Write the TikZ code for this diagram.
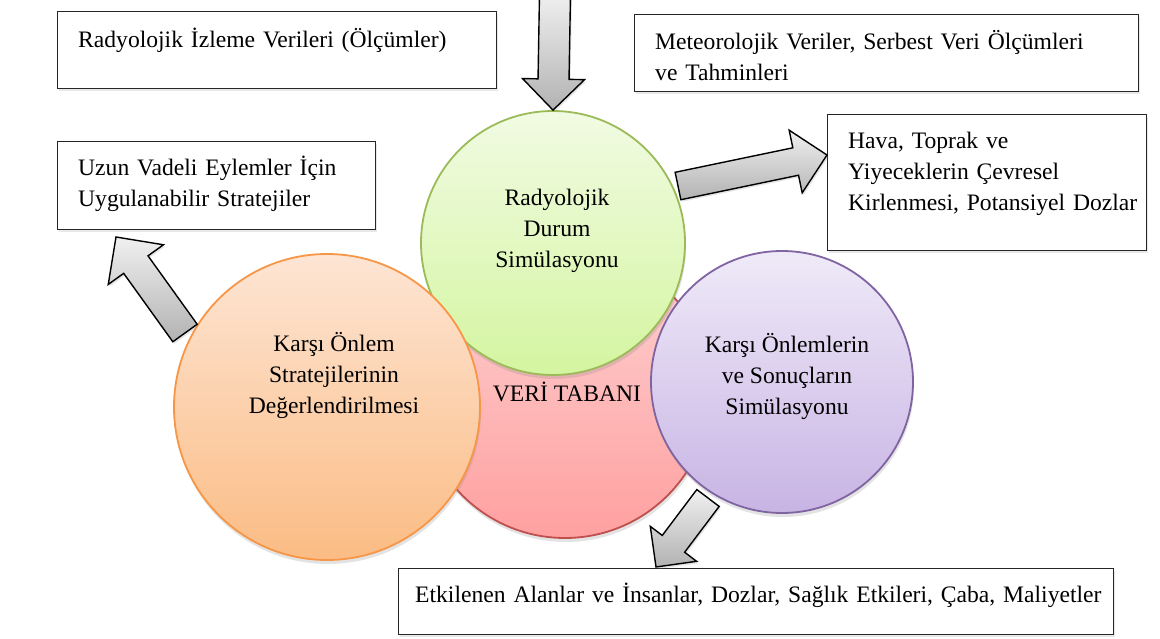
\documentclass[tikz,border=0pt]{standalone}
\usepackage{fontspec}
\setmainfont{Liberation Serif}
\usetikzlibrary{calc,shadows}
\definecolor{grnD}{HTML}{9BBB59}
\definecolor{grnT}{HTML}{F1FBE3}
\definecolor{grnB}{HTML}{D4F5A0}
\definecolor{redD}{HTML}{C0504D}
\definecolor{redT}{HTML}{FDD2D2}
\definecolor{redB}{HTML}{FFA0A0}
\definecolor{orgD}{HTML}{F79646}
\definecolor{orgT}{HTML}{FDE5D4}
\definecolor{orgB}{HTML}{FBBC84}
\definecolor{purD}{HTML}{8064A2}
\definecolor{purT}{HTML}{EFEAF8}
\definecolor{purB}{HTML}{C8B4E4}
\definecolor{arrT}{HTML}{F0F0F0}
\definecolor{arrB}{HTML}{B2B2B2}
\newcommand{\blockarrow}[6]{%
  \coordinate (#1-h) at ($(#3)!#6!(#2)$);
  \path[barrow] ($(#2)!#4!90:(#3)$) -- ($(#1-h)!#4!90:(#3)$) -- ($(#1-h)!#5!90:(#3)$) -- (#3)
    -- ($(#1-h)!#5!-90:(#3)$) -- ($(#1-h)!#4!-90:(#3)$) -- ($(#2)!#4!-90:(#3)$) -- cycle;}
\begin{document}
\begin{tikzpicture}[x=1pt,y=-1pt,font=\fontsize{23.6}{31}\selectfont,
  boxnode/.style={draw=black!85,line width=1.2pt,fill=white,anchor=north west,inner sep=0pt,
    drop shadow={opacity=0.18,shadow xshift=1.5pt,shadow yshift=-2pt}},
  boxtext/.style={anchor=base west,inner sep=0pt,text width=#1,align=left},
  circ/.style={circle,line width=1.8pt,inner sep=0pt,minimum size=#1,
    drop shadow={opacity=0.22,shadow xshift=1pt,shadow yshift=-4pt}},
  ctext/.style={inner sep=0pt,align=center},
  barrow/.style={draw=black,line width=1.4pt,line join=miter,top color=arrT,bottom color=arrB,
    drop shadow={opacity=0.2,shadow xshift=1.5pt,shadow yshift=-2pt}}]
\useasboundingbox[fill=white] (0,0) rectangle (1160,639);

% boxes
\node[boxnode,minimum width=439,minimum height=77] (b1) at (57,11) {};
\node[boxtext=420] (b1t) at ($(b1.north west)+(21,37)$) {Radyolojik İzleme Verileri (Ölçümler)};
\node[boxnode,minimum width=504,minimum height=77] (b2) at (634,14) {};
\node[boxtext=480] (b2t) at ($(b2.north west)+(21,36)$) {Meteorolojik Veriler, Serbest Veri Ölçümleri\\ve Tahminleri};
\node[boxnode,minimum width=319,minimum height=136] (b3) at (827,114) {};
\node[boxtext=300] (b3t) at ($(b3.north west)+(21,35)$) {Hava, Toprak ve\\Yiyeceklerin Çevresel\\Kirlenmesi, Potansiyel Dozlar};
\node[boxnode,minimum width=318,minimum height=88] (b4) at (57,141) {};
\node[boxtext=300] (b4t) at ($(b4.north west)+(21,35)$) {Uzun Vadeli Eylemler İçin\\Uygulanabilir Stratejiler};
\node[boxnode,minimum width=715,minimum height=66] (b5) at (398,568) {};
\node[boxtext=700] (b5t) at ($(b5.north west)+(17,34)$) {Etkilenen Alanlar ve İnsanlar, Dozlar, Sağlık Etkileri, Çaba, Maliyetler};

% circles
\node[circ=290,draw=redD,top color=redT,bottom color=redB] (db) at (565,393) {};
\node[circ=264,draw=grnD,top color=grnT,bottom color=grnB] (rds) at (553,243) {};
\node[circ=262,draw=purD,top color=purT,bottom color=purB] (kos) at (782,382) {};
\node[circ=306,draw=orgD,top color=orgT,bottom color=orgB] (kos2) at (327,407) {};

\node[ctext] (dbt) at (567,392) {VERİ TABANI};
\node[ctext] (rdst) at (557,231) {Radyolojik\\Durum\\Simülasyonu};
\node[ctext] (kost) at (787,376) {Karşı Önlemlerin\\ve Sonuçların\\Simülasyonu};
\node[ctext] (kos2t) at (334,375) {Karşı Önlem\\Stratejilerinin\\Değerlendirilmesi};

% block arrows
\coordinate (a1s) at (555,-6);
\coordinate (a1e) at (rds.north);
\coordinate (a2s) at (678,186);
\coordinate (a2e) at (827,155);
\coordinate (a3s) at (185,333);
\coordinate (a3e) at (116,237);
\coordinate (a4s) at (708,498);
\coordinate (a4e) at (656,567);
\blockarrow{a1}{a1s}{a1e}{15.5pt}{31pt}{31pt}
\blockarrow{a2}{a2s}{a2e}{14pt}{32pt}{32pt}
\blockarrow{a3}{a3s}{a3e}{15pt}{34pt}{34pt}
\blockarrow{a4}{a4s}{a4e}{14pt}{29pt}{29pt}
\end{tikzpicture}
\end{document}
